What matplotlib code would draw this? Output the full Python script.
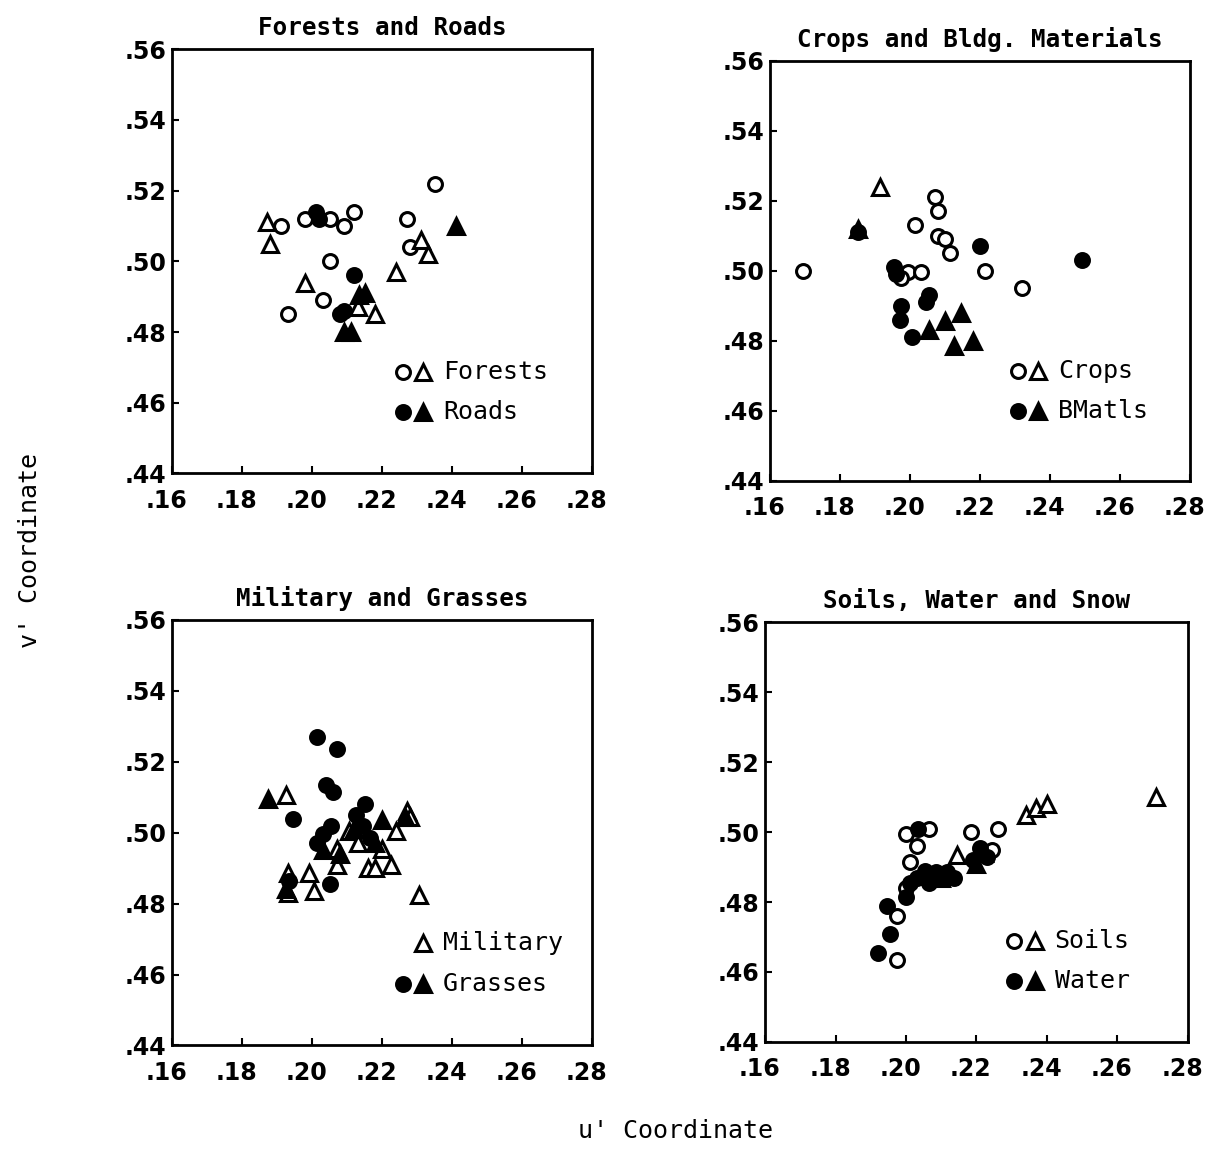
import numpy as np
import matplotlib
matplotlib.use("Agg")
import matplotlib.pyplot as plt
import matplotlib.transforms as mtransforms

# u', v' chromaticity coordinates

# Forests and Roads
forest_circ_u = [.235, .191, .198, .205, .209, .212, .227, .228, .205, .203, .193]
forest_circ_v = [.522, .510, .512, .512, .510, .514, .512, .504, .500, .489, .485]
forest_tri_u = [.187, .188, .198, .224, .231, .233, .218, .213]
forest_tri_v = [.511, .505, .494, .497, .506, .502, .485, .487]
road_circ_u = [.201, .202, .212, .208, .209]
road_circ_v = [.514, .512, .496, .485, .486]
road_tri_u = [.241, .215, .2135, .209, .211]
road_tri_v = [.510, .491, .4905, .480, .480]

# Crops and Bldg. Materials
crop_circ_u = [.1695, .207, .208, .2015, .208, .210, .2115, .2215, .232, .1995, .203, .1975]
crop_circ_v = [.500, .521, .517, .513, .510, .509, .505, .500, .495, .4995, .4995, .498]
crop_tri_u = [.1915, .185]
crop_tri_v = [.524, .512]
bmat_circ_u = [.185, .220, .1955, .196, .2055, .2045, .1975, .197, .2005, .249]
bmat_circ_v = [.511, .507, .501, .499, .493, .491, .490, .486, .481, .503]
bmat_tri_u = [.210, .2145, .2055, .2125, .218]
bmat_tri_v = [.4855, .488, .483, .4785, .480]

# Military and Grasses
mil_tri_u = [.1925, .227, .228, .224, .2105, .207, .207, .220, .216, .2225, .193, .199,
             .193, .2005, .2305, .218, .213]
mil_tri_v = [.5105, .506, .5045, .5005, .5005, .4955, .491, .4955, .490, .491, .4885, .4885,
             .483, .4835, .4825, .490, .497]
grass_circ_u = [.2015, .207, .204, .206, .1945, .215, .2125, .2145, .2055, .203, .2015,
                .2165, .205, .1935]
grass_circ_v = [.527, .5235, .5135, .5115, .504, .508, .505, .502, .502, .4995, .497,
                .4985, .4855, .4865]
grass_tri_u = [.1875, .220, .218, .208, .203, .1925, .212, .2265]
grass_tri_v = [.5095, .5035, .497, .494, .495, .484, .501, .5045]

# Soils, Water and Snow
soil_circ_u = [.200, .2065, .203, .201, .1975, .1975, .2185, .226, .2245, .200]
soil_circ_v = [.4995, .501, .496, .4915, .476, .4635, .500, .501, .495, .484]
soil_tri_u = [.2145, .234, .237, .240, .271]
soil_tri_v = [.4935, .505, .507, .508, .510]
water_circ_u = [.1945, .1955, .192, .2035, .203, .2055, .2085, .2115, .2135, .2065,
                .201, .200, .221, .219, .223, .2095, .207]
water_circ_v = [.479, .471, .4655, .501, .487, .489, .4885, .4885, .487, .4855,
                .4855, .4815, .4955, .492, .493, .4875, .4880]
water_tri_u = [.212, .210, .220, .222, .205]
water_tri_v = [.4875, .487, .491, .494, .4875]

panels = [
    ("Forests and Roads",
     [(forest_circ_u, forest_circ_v, "o", False), (forest_tri_u, forest_tri_v, "^", False),
      (road_circ_u, road_circ_v, "o", True), (road_tri_u, road_tri_v, "^", True)],
     [("o^", False, "Forests"), ("o^", True, "Roads")]),
    ("Crops and Bldg. Materials",
     [(crop_circ_u, crop_circ_v, "o", False), (crop_tri_u, crop_tri_v, "^", False),
      (bmat_circ_u, bmat_circ_v, "o", True), (bmat_tri_u, bmat_tri_v, "^", True)],
     [("o^", False, "Crops"), ("o^", True, "BMatls")]),
    ("Military and Grasses",
     [(mil_tri_u, mil_tri_v, "^", False),
      (grass_circ_u, grass_circ_v, "o", True), (grass_tri_u, grass_tri_v, "^", True)],
     [("^", False, "Military"), ("o^", True, "Grasses")]),
    ("Soils, Water and Snow",
     [(soil_circ_u, soil_circ_v, "o", False), (soil_tri_u, soil_tri_v, "^", False),
      (water_circ_u, water_circ_v, "o", True), (water_tri_u, water_tri_v, "^", True)],
     [("o^", False, "Soils"), ("o^", True, "Water")]),
]

# legend anchor (axes fraction) per panel
leg_pos = [(0.55, 0.24), (0.59, 0.26), (0.55, 0.24), (0.59, 0.24)]

xticks = [.16, .18, .20, .22, .24, .26, .28]
yticks = [.44, .46, .48, .50, .52, .54, .56]

fig = plt.figure(figsize=(12.07, 11.72), dpi=100)
rects = [
    [0.1425, 0.596, 0.348, 0.362],
    [0.638, 0.590, 0.348, 0.358],
    [0.1425, 0.108, 0.348, 0.363],
    [0.634, 0.111, 0.350, 0.358],
]

mono = "DejaVu Sans Mono"
xshift = mtransforms.ScaledTranslation(-4 / 72, 0, fig.dpi_scale_trans)


def draw_marker(ax, x, y, m, filled):
    ax.plot(x, y, marker=m, ms=10 if m == "o" else 11, mew=2.2,
            mfc="black" if filled else "white", mec="black", ls="none",
            transform=ax.transAxes, clip_on=False, zorder=5)


for i, (title, series, legend) in enumerate(panels):
    ax = fig.add_axes(rects[i])
    for u, v, m, filled in series:
        ax.plot(u, v, marker=m, ls="none", ms=10 if m == "o" else 11, mew=2.2,
                mfc="black" if filled else "white", mec="black", zorder=3)
    ax.set_xlim(.16, .28)
    ax.set_ylim(.44, .56)
    ax.set_xticks(xticks)
    ax.set_yticks(yticks)
    ax.set_xticklabels(["." + f"{t:.2f}".split(".")[1] for t in xticks])
    ax.set_yticklabels(["." + f"{t:.2f}".split(".")[1] for t in yticks])
    ax.tick_params(direction="in", length=5, width=1.5, labelsize=17)
    ax.tick_params(axis="x", pad=11)
    ax.tick_params(axis="y", pad=4)
    for lab in ax.get_xticklabels():
        lab.set_fontweight("bold")
        lab.set_transform(lab.get_transform() + xshift)
    for lab in ax.get_yticklabels():
        lab.set_fontweight("bold")
    for s in ax.spines.values():
        s.set_linewidth(2)
    ax.set_title(title, fontsize=17.5, fontweight="bold", family=mono, pad=10)

    lx, ly = leg_pos[i]
    for j, (marks, filled, label) in enumerate(legend):
        yy = ly - j * 0.095
        if len(marks) == 2:
            draw_marker(ax, lx, yy, "o", filled)
        draw_marker(ax, lx + 0.048, yy, "^", filled)
        ax.text(lx + 0.095, yy, label, transform=ax.transAxes, fontsize=18,
                family=mono, va="center", ha="left")

fig.text(0.025, 0.53, "v' Coordinate", rotation=90, fontsize=18, family=mono,
         va="center", ha="center")
fig.text(0.56, 0.035, "u' Coordinate", fontsize=18, family=mono,
         va="center", ha="center")

fig.savefig("out.png", dpi=100)
